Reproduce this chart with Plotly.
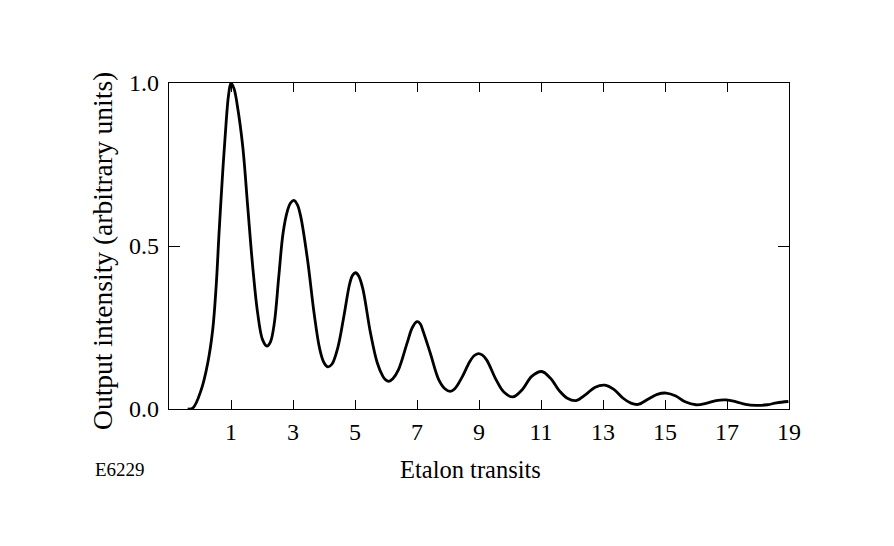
import plotly.graph_objects as go

transits = [-0.4, -0.23, 0.04, 0.25, 0.41, 0.52, 0.62, 0.73, 0.84, 0.92, 1.0, 1.1, 1.21, 1.38, 1.54,
            1.70, 1.86, 2.02, 2.16, 2.27, 2.40, 2.54, 2.68, 2.82, 2.92, 3.03, 3.14, 3.25, 3.47, 3.68,
            3.86, 4.0, 4.13, 4.26, 4.45, 4.64, 4.83, 4.92, 5.02, 5.12, 5.25, 5.50, 5.72, 5.90, 5.98,
            6.09, 6.22, 6.40, 6.68, 6.85, 7.0, 7.1, 7.20, 7.43, 7.70, 7.9, 8.07, 8.22, 8.45, 8.70,
            8.85, 8.98, 9.1, 9.25, 9.55, 9.80, 10.09, 10.40, 10.70, 11.02, 11.30, 11.60, 11.85,
            12.13, 12.45, 12.75, 13.06, 13.35, 13.65, 13.90, 14.13, 14.45, 14.75, 15.04, 15.35,
            15.65, 16.0, 16.35, 16.65, 16.97, 17.3, 17.6, 17.94, 18.3, 18.6, 18.98]
intensity = [0.0, 0.003, 0.059, 0.141, 0.243, 0.375, 0.549, 0.723, 0.875, 0.962, 1.0, 0.982, 0.927,
             0.804, 0.62, 0.437, 0.294, 0.212, 0.193, 0.205, 0.265, 0.405, 0.54, 0.608, 0.632,
             0.64, 0.627, 0.59, 0.457, 0.294, 0.185, 0.142, 0.129, 0.138, 0.19, 0.284, 0.385,
             0.41, 0.418, 0.408, 0.37, 0.233, 0.141, 0.10, 0.09, 0.085, 0.093, 0.12, 0.202, 0.25,
             0.268, 0.262, 0.238, 0.171, 0.09, 0.062, 0.054, 0.062, 0.097, 0.145, 0.164, 0.17,
             0.166, 0.15, 0.09, 0.052, 0.037, 0.06, 0.10, 0.115, 0.095, 0.055, 0.033, 0.026,
             0.045, 0.067, 0.073, 0.06, 0.033, 0.018, 0.014, 0.03, 0.045, 0.049, 0.04, 0.022,
             0.013, 0.018, 0.026, 0.028, 0.022, 0.014, 0.011, 0.013, 0.019, 0.023]

x_ticks = [1, 3, 5, 7, 9, 11, 13, 15, 17, 19]
y_ticks = [0.0, 0.5, 1.0]
y_tick_labels = ["0.0", "0.5", "1.0"]

FONT = "Liberation Serif, Times New Roman, serif"

fig = go.Figure()
fig.add_trace(go.Scatter(
    x=transits, y=intensity, mode="lines",
    line=dict(color="black", width=2.8, shape="spline", smoothing=1.0),
    hoverinfo="skip", showlegend=False,
))

fig.update_layout(
    width=894, height=546,
    margin=dict(l=169, r=105, t=83, b=137),
    paper_bgcolor="white", plot_bgcolor="white",
    font=dict(family=FONT, color="black"),
    xaxis=dict(
        range=[-1, 19], tickvals=x_ticks, ticks="inside", ticklen=9, tickwidth=1.2,
        tickcolor="black", showline=True, linecolor="black", linewidth=1.3, mirror="ticks",
        showgrid=False, zeroline=False, tickfont=dict(family=FONT, size=24, color="black"),
        ticklabelstandoff=1,
    ),
    yaxis=dict(
        range=[0, 1], tickvals=y_ticks, ticktext=y_tick_labels, ticks="inside", ticklen=11,
        tickwidth=1.2, tickcolor="black", showline=True, linecolor="black", linewidth=1.3,
        mirror="ticks", showgrid=False, zeroline=False,
        tickfont=dict(family=FONT, size=24, color="black"), ticklabelstandoff=4,
    ),
    annotations=[
        dict(text="Output intensity (arbitrary units)", xref="paper", yref="paper",
             x=-0.1085, y=0.484, textangle=-90, showarrow=False,
             font=dict(family=FONT, size=27.5, color="black"), xanchor="center", yanchor="middle"),
        dict(text="Etalon transits", xref="paper", yref="paper", x=0.4855, y=-0.186,
             showarrow=False, font=dict(family=FONT, size=24.5, color="black"),
             xanchor="center", yanchor="middle"),
        dict(text="E6229", xref="paper", yref="paper", x=-0.122, y=-0.186,
             showarrow=False, font=dict(family=FONT, size=19, color="black"),
             xanchor="left", yanchor="middle"),
    ],
)

fig.write_html("out.html")
